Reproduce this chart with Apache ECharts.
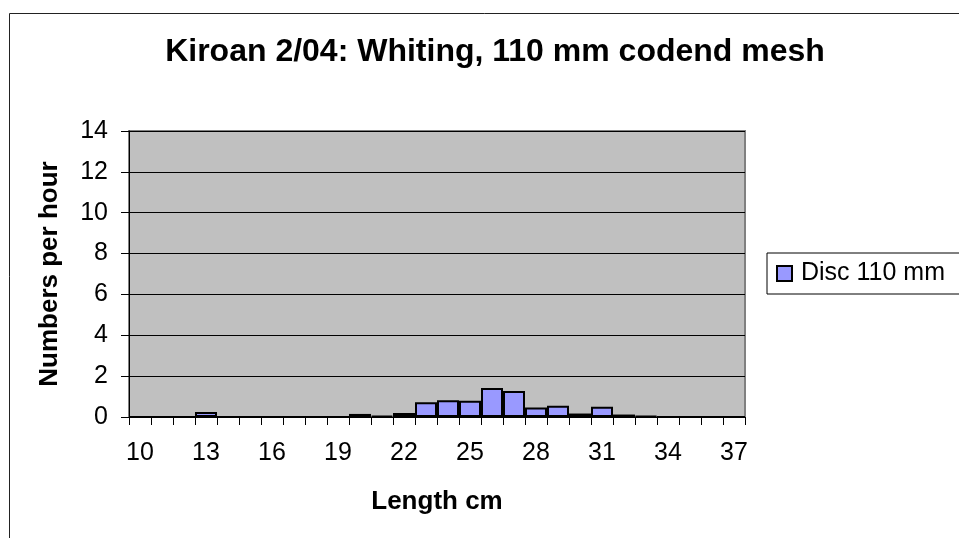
<!DOCTYPE html>
<html>
<head>
<meta charset="utf-8">
<script src="https://cdn.jsdelivr.net/npm/echarts@6/dist/echarts.min.js"></script>
<style>
html,body{margin:0;padding:0;background:#fff;}
#chart{width:959px;height:538px;}
</style>
</head>
<body>
<div id="chart"></div>
<script>
const titleText = 'Kiroan 2/04: Whiting, 110 mm codend mesh';
const xAxisTitle = 'Length cm';
const yAxisTitle = 'Numbers per hour';
const seriesName = 'Disc 110 mm';
const categories = ['10','11','12','13','14','15','16','17','18','19','20','21','22','23','24','25','26','27','28','29','30','31','32','33','34','35','36','37'];
const values = [0,0,0,0.25,0,0,0,0,0,0,0.15,0.06,0.2,0.72,0.82,0.8,1.42,1.27,0.47,0.55,0.17,0.5,0.12,0.04,0,0,0,0];
const yMin = 0, yMax = 14, yStep = 2;

const FONT = 'Arial, "Liberation Sans", sans-serif';
const chart = echarts.init(document.getElementById('chart'), null, {renderer: 'canvas'});
chart.setOption({
  animation: false,
  backgroundColor: '#ffffff',
  graphic: [{
    type: 'rect', left: 7, top: 11, silent: true, z: -10,
    shape: {width: 1000, height: 600},
    style: {fill: 'none', stroke: '#222', lineWidth: 1}
  }],
  title: {
    text: titleText,
    left: 490, top: 31, textAlign: 'center',
    textStyle: {fontFamily: FONT, fontSize: 32, fontWeight: 'bold', color: '#000'}
  },
  legend: {
    data: [seriesName],
    left: 767, top: 253,
    orient: 'vertical',
    itemWidth: 15, itemHeight: 15, itemGap: 0,
    padding: [8, 30, 8, 9],
    borderColor: '#000', borderWidth: 1,
    backgroundColor: '#fff',
    icon: 'rect',
    textStyle: {fontFamily: FONT, fontSize: 25, color: '#000', padding: [0,0,0,4]}
  },
  grid: {
    left: 129, right: 214, top: 131, bottom: 121,
    show: true, backgroundColor: '#C0C0C0', borderColor: '#808080', borderWidth: 2,
    containLabel: false
  },
  xAxis: {
    type: 'category',
    data: categories,
    boundaryGap: true,
    name: xAxisTitle,
    nameLocation: 'middle',
    nameGap: 72,
    nameTextStyle: {fontFamily: FONT, fontSize: 26, fontWeight: 'bold', color: '#000'},
    axisLine: {show: true, lineStyle: {color: '#000', width: 1}},
    axisTick: {show: true, interval: 0, length: 8, lineStyle: {color: '#000'}},
    axisLabel: {interval: 2, margin: 24, fontFamily: FONT, fontSize: 25, color: '#000'},
    splitLine: {show: false}
  },
  yAxis: {
    type: 'value',
    min: yMin, max: yMax, interval: yStep,
    name: yAxisTitle,
    nameLocation: 'middle',
    nameGap: 66,
    nameTextStyle: {fontFamily: FONT, fontSize: 26, fontWeight: 'bold', color: '#000'},
    axisLine: {show: true, lineStyle: {color: '#000', width: 1}},
    axisTick: {show: true, length: 8, lineStyle: {color: '#000'}},
    axisLabel: {margin: 21, fontFamily: FONT, fontSize: 25, color: '#000'},
    splitLine: {show: true, lineStyle: {color: '#000', width: 1}}
  },
  series: [{
    name: seriesName,
    type: 'bar',
    data: values,
    barCategoryGap: '0%',
    itemStyle: {color: '#9999FF', borderColor: '#000', borderWidth: 2}
  }]
});
</script>
</body>
</html>
